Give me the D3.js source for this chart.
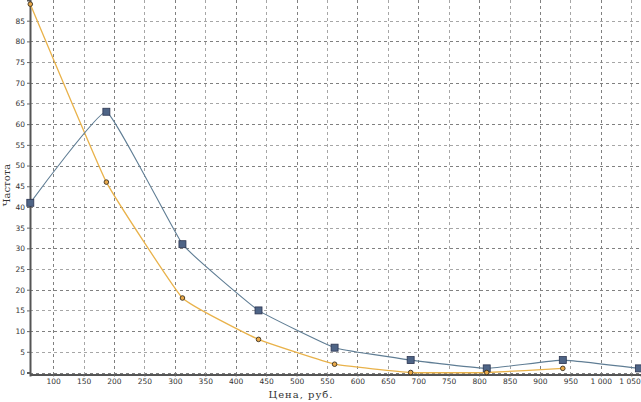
<!DOCTYPE html>
<html>
<head>
<meta charset="utf-8">
<script src="https://cdnjs.cloudflare.com/ajax/libs/d3/7.8.5/d3.min.js"></script>
<style>
  body { margin: 0; background: #fff; }
  svg text { font-family: "DejaVu Sans", sans-serif; }
</style>
</head>
<body>
<script>
/*
    DATA
*/
var midpoints = [62.5, 187.5, 312.5, 437.5, 562.5, 687.5, 812.5, 937.5, 1062.5];
var blueValues = [41, 63, 31, 15, 6, 3, 1, 3, 1];
var orangeValues = [89, 46, 18, 8, 2, 0, 0, 1];
var xTicks = [100, 150, 200, 250, 300, 350, 400, 450, 500, 550, 600, 650, 700, 750, 800, 850, 900, 950, 1000, 1050];
var yTicks = [0, 5, 10, 15, 20, 25, 30, 35, 40, 45, 50, 55, 60, 65, 70, 75, 80, 85];
var xTitle = "Цена, руб.";
var yTitle = "Частота";

/*
    LAYOUT
*/
var width = 641, height = 402;
var plotLeft = 30, plotRight = 641, plotTop = 0, plotBottom = 372.5;

var x = d3.scaleLinear().domain([62, 1066]).range([plotLeft, plotRight]);
var y = d3.scaleLinear().domain([0, 90]).range([plotBottom, plotTop]);

var svg = d3.select("body").append("svg")
    .attr("width", width)
    .attr("height", height);

// grid
svg.append("g").selectAll("line")
    .data(yTicks)
  .enter().append("line")
    .attr("x1", plotLeft).attr("x2", plotRight)
    .attr("y1", function(d) { return Math.round(y(d)) + 0.5; })
    .attr("y2", function(d) { return Math.round(y(d)) + 0.5; })
    .style("stroke", function(d) { return d % 10 == 0 ? "#808080" : "#a6a6a6"; })
    .style("stroke-dasharray", "3,3");

svg.append("g").selectAll("line")
    .data(xTicks)
  .enter().append("line")
    .attr("y1", plotTop).attr("y2", plotBottom + 2)
    .attr("x1", function(d) { return Math.round(x(d)) + 0.5; })
    .attr("x2", function(d) { return Math.round(x(d)) + 0.5; })
    .style("stroke", function(d) { return d % 100 == 0 ? "#808080" : "#a6a6a6"; })
    .style("stroke-dasharray", "3,3");

// axes
var yAxis = svg.append("g")
    .attr("transform", "translate(" + plotLeft + ",0)")
    .call(d3.axisLeft(y).tickValues(yTicks).tickSize(3).tickFormat(d3.format("d")));
var xAxis = svg.append("g")
    .attr("transform", "translate(0," + (plotBottom + 2) + ")")
    .call(d3.axisBottom(x).tickValues(xTicks).tickSize(2)
        .tickFormat(function(d) { return d >= 1000 ? d3.format(",")(d).replace(",", " ") : d; }));

[yAxis, xAxis].forEach(function(a) {
  a.select(".domain").style("stroke", "#555").style("stroke-width", 2);
  a.selectAll(".tick line").style("stroke", "#666");
  a.selectAll("text").style("font-size", "7.5px").style("fill", "#333");
});
yAxis.selectAll("text").attr("x", -5);
xAxis.selectAll("text").attr("y", 4);
xAxis.selectAll(".tick").filter(function(d) { return d == 1050; })
    .select("text").attr("text-anchor", "end").attr("dx", "9");

// titles
svg.append("text")
    .attr("transform", "translate(10," + 185 + ") rotate(-90)")
    .attr("text-anchor", "middle")
    .style("font-family", "'DejaVu Serif', serif")
    .style("font-size", "10px")
    .style("fill", "#333")
    .text(yTitle);

svg.append("text")
    .attr("x", 301).attr("y", 398)
    .attr("text-anchor", "middle")
    .style("font-family", "'DejaVu Serif', serif")
    .style("font-size", "10px")
    .style("letter-spacing", "1px")
    .style("fill", "#333")
    .text(xTitle);

// lines
var line = d3.line()
    .x(function(d) { return x(d[0]); })
    .y(function(d) { return y(d[1]); })
    .curve(d3.curveCardinal.tension(0.7));

var blue = blueValues.map(function(v, i) { return [midpoints[i], v]; });
var orange = orangeValues.map(function(v, i) { return [midpoints[i], v]; });

svg.append("path").datum(orange)
    .attr("d", line)
    .style("fill", "none")
    .style("stroke", "#e9b24a")
    .style("stroke-width", 1.3);

svg.append("path").datum(blue)
    .attr("d", line)
    .style("fill", "none")
    .style("stroke", "#5f7d94")
    .style("stroke-width", 1.1);

svg.append("g").selectAll("rect")
    .data(blue)
  .enter().append("rect")
    .attr("x", function(d) { return x(d[0]) - 3.5; })
    .attr("y", function(d) { return y(d[1]) - 3.5; })
    .attr("width", 7).attr("height", 7)
    .style("fill", "#4e6486")
    .style("stroke", "#2c3550")
    .style("stroke-width", 0.8);

svg.append("g").selectAll("circle")
    .data(orange)
  .enter().append("circle")
    .attr("cx", function(d) { return x(d[0]); })
    .attr("cy", function(d) { return y(d[1]); })
    .attr("r", 2.3)
    .style("fill", "#e9a94a")
    .style("stroke", "#3a3020")
    .style("stroke-width", 0.9);
</script>
</body>
</html>
